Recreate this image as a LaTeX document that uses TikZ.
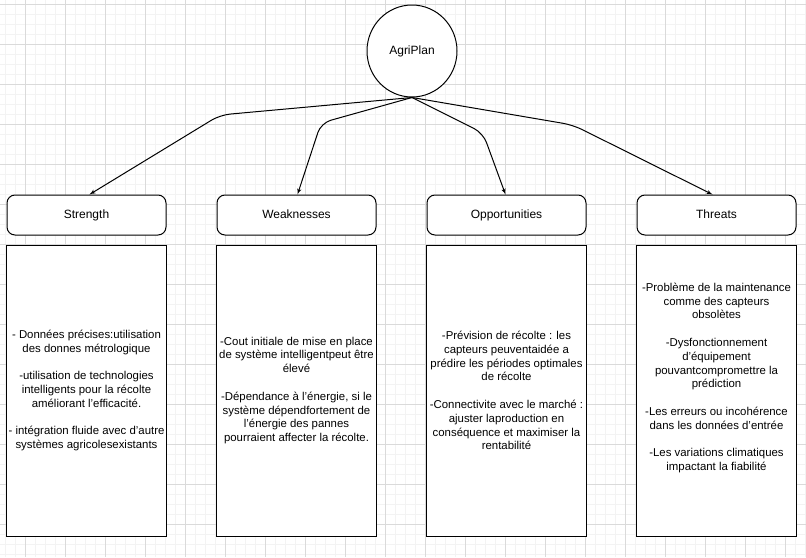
\documentclass[tikz,border=0pt]{standalone}
\usepackage{fontspec}
\setmainfont{Liberation Sans}
\usetikzlibrary{shapes,arrows,positioning,calc}
\definecolor{gridminor}{HTML}{F3F3F3}
\definecolor{gridmajor}{HTML}{DADADA}
\tikzset{
plan/.style = {draw, fill=white, ellipse, minimum width=90pt, minimum height=92pt, inner sep=0pt},
header/.style = {draw, fill=white, rectangle, rounded corners=8pt, minimum width=159pt, minimum height=40pt, text height=8.5pt, text depth=2.5pt, align=center},
detail/.style = {draw, fill=white, rectangle, minimum width=160pt, minimum height=291pt, inner sep=1pt, align=center, font=\fontsize{11.4}{13.8}\selectfont},
link/.style = {->, rounded corners=10pt},
}
\begin{document}
\begin{tikzpicture}[x=1pt, y=-1pt, line width=1pt, >=latex', font=\fontsize{12}{13.8}\selectfont]
    \useasboundingbox (0,0) rectangle (806,557);
    % background grid
    \foreach \x in {5,15,...,805} \draw [gridminor] (\x,0) -- (\x,557);
    \foreach \y in {4,14,...,554} \draw [gridminor] (0,\y) -- (806,\y);
    \foreach \x in {25,65,...,785} \draw [gridmajor] (\x,0) -- (\x,557);
    \foreach \y in {4,44,...,524} \draw [gridmajor] (0,\y) -- (806,\y);

    \node [plan] (agriplan) at (412,51) {AgriPlan};

    \node [header] (strength) at (86.5,215) {Strength};
    \node [header, right of = strength, node distance = 210pt] (weak) {Weaknesses};
    \node [header, right of = weak, node distance = 210pt] (opp) {Opportunities};
    \node [header, right of = opp, node distance = 210pt] (threats) {Threats};

    \node [detail, below of = strength, node distance = 175.5pt] (strengthlist)
       {- Données précises:utilisation\\des donnes métrologique\\[13.8pt]
        -utilisation de technologies\\intelligents pour la récolte\\améliorant l'efficacité.\\[13.8pt]
        - intégration fluide avec d'autre\\systèmes agricolesexistants};
    \node [detail, below of = weak, node distance = 175.5pt] (weaklist)
       {-Cout initiale de mise en place\\de système intelligentpeut être\\élevé\\[13.8pt]
        -Dépendance à l'énergie, si le\\système dépendfortement de\\l'énergie des pannes\\pourraient affecter la récolte.};
    \node [detail, below of = opp, node distance = 175.5pt] (opplist)
       {-Prévision de récolte : les\\capteurs peuventaidée a\\prédire les périodes optimales\\de récolte\\[13.8pt]
        -Connectivite avec le marché :\\ajuster laproduction en\\conséquence et maximiser la\\rentabilité};
    \node [detail, below of = threats, node distance = 175.5pt] (threatslist)
       {-Problème de la maintenance\\comme des capteurs\\obsolètes\\[13.8pt]
        -Dysfonctionnement\\d'équipement\\pouvantcompromettre la\\prédiction\\[13.8pt]
        -Les erreurs ou incohérence\\dans les données d'entrée\\[13.8pt]
        -Les variations climatiques\\impactant la fiabilité\\[13.8pt]\mbox{}};

    \coordinate (bendS) at (220,115);
    \coordinate (bendW) at (321,123);
    \coordinate (bendO) at (483,133);
    \coordinate (bendT) at (573,125);

    \draw [link] (agriplan.south) -- (bendS) -- ($(strength.north)+(3,0)$);
    \draw [link] (agriplan.south) -- (bendW) -- ($(weak.north)+(1,0)$);
    \draw [link] (agriplan.south) -- (bendO) -- ($(opp.north)+(-1,0)$);
    \draw [link] (agriplan.south) -- (bendT) -- ($(threats.north)+(-4,0)$);
\end{tikzpicture}
\end{document}
